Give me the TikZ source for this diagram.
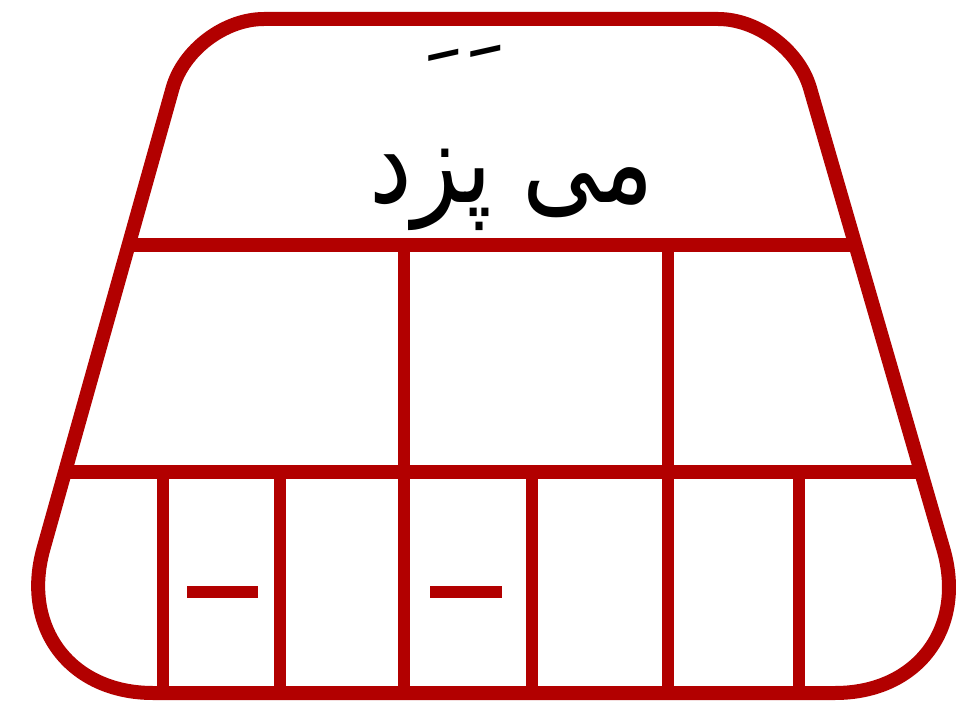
\documentclass[tikz,border=0pt]{standalone}
\usepackage{fontspec}
\newfontfamily\arabicfont[Script=Arabic]{DejaVu Sans}
\TeXXeTstate=1
\usetikzlibrary{calc}
\definecolor{frame}{RGB}{178,0,0}
\begin{document}
\begin{tikzpicture}[x=1pt,y=-1pt,
  outline/.style={draw=frame,line width=14pt,line join=round},
  hline/.style={draw=frame,line width=14pt},
  vline/.style={draw=frame,line width=12pt},
  dashmark/.style={draw=frame,line width=12pt},
  arab/.style={font=\arabicfont\fontsize{96}{110}\selectfont,inner sep=0pt},
  harakat/.style={font=\arabicfont\fontsize{105}{115}\selectfont,inner sep=0pt}]
\useasboundingbox (0,0) rectangle (977,711);
\fill[white] (0,0) rectangle (977,711);
% corners of the trapezoid
\coordinate (C1) at (192,19);
\coordinate (C2) at (790,19);
\coordinate (C3) at (985,693);
\coordinate (C4) at (3,693);
% tangent points of the rounded corners
\coordinate (T1) at ($(C1)!72pt!(C2)$);
\coordinate (S1) at ($(C1)!72pt!(C4)$);
\coordinate (T2) at ($(C2)!72pt!(C1)$);
\coordinate (S2) at ($(C2)!72pt!(C3)$);
\coordinate (S3) at ($(C3)!150pt!(C2)$);
\coordinate (B3) at ($(C3)!150pt!(C4)$);
\coordinate (B4) at ($(C4)!150pt!(C3)$);
\coordinate (S4) at ($(C4)!150pt!(C1)$);
\draw[outline] (T1) -- (T2)
  .. controls ($(T2)!0.55!(C2)$) and ($(S2)!0.55!(C2)$) .. (S2)
  -- (S3)
  .. controls ($(S3)!0.55!(C3)$) and ($(B3)!0.55!(C3)$) .. (B3)
  -- (B4)
  .. controls ($(B4)!0.55!(C4)$) and ($(S4)!0.55!(C4)$) .. (S4)
  -- (S1)
  .. controls ($(S1)!0.55!(C1)$) and ($(T1)!0.55!(C1)$) .. (T1) -- cycle;
% horizontal dividers
\coordinate (L1) at ($(C1)!0.3353!(C4)$);
\coordinate (R1) at ($(C2)!0.3353!(C3)$);
\coordinate (L2) at ($(C1)!0.6721!(C4)$);
\coordinate (R2) at ($(C2)!0.6721!(C3)$);
\draw[hline] (L1) -- (R1);
\draw[hline] (L2) -- (R2);
% vertical dividers, middle row
\foreach \x [count=\i] in {404,668} {
  \coordinate (mt\i) at (\x,245);
  \coordinate (mb\i) at (\x,472);
  \draw[vline] (mt\i) -- (mb\i);
}
% vertical dividers, bottom row
\foreach \x [count=\i] in {163,280,404,532,668,799} {
  \coordinate (bt\i) at (\x,472);
  \coordinate (bb\i) at (\x,693);
  \draw[vline] (bt\i) -- (bb\i);
}
% dashes
\coordinate (d1a) at (187,592); \coordinate (d1b) at (258,592);
\coordinate (d2a) at (430,592); \coordinate (d2b) at (502,592);
\draw[dashmark] (d1a) -- (d1b);
\draw[dashmark] (d2a) -- (d2b);
% text
\node[arab,anchor=base] (title) at (512,203) {\scalebox{1}[1.2]{\beginR می پزد\endR}};
\node[harakat,anchor=base] (f1) at (476,120) {\raisebox{0pt}[78pt][-60pt]{\char"00A0 َ}};
\node[harakat,anchor=base] (f2) at (434,124) {\raisebox{0pt}[78pt][-60pt]{\char"00A0 َ}};
\end{tikzpicture}
\end{document}
